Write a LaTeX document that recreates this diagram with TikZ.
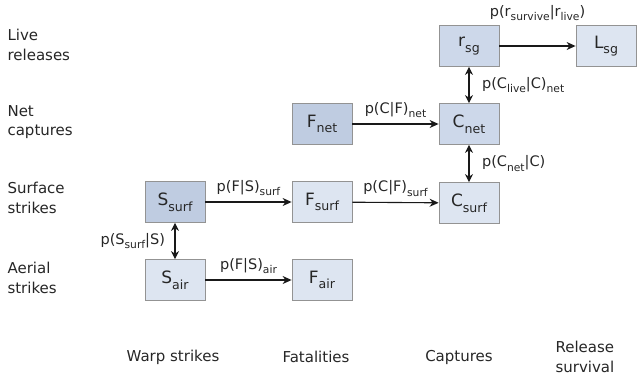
\documentclass[tikz,border=0pt]{standalone}
\usepackage{fontspec}
\setmainfont{DejaVu Sans}
\usetikzlibrary{arrows.meta,positioning}

\definecolor{cajaclaro}{HTML}{DDE5F1}
\definecolor{cajamedio}{HTML}{CDD8EA}
\definecolor{cajaoscuro}{HTML}{BFCCE1}
\newcommand{\bajo}[1]{\raisebox{-0.6ex}{\scalebox{0.74}{#1}}}

\tikzset{
	caja/.style={draw=gray!85, line width=0.8pt, minimum width=60pt, minimum height=41pt, inner sep=0pt, text=black!85, font=\fontsize{17}{20}\selectfont},
	claro/.style={caja, fill=cajaclaro},
	medio/.style={caja, fill=cajamedio},
	oscuro/.style={caja, fill=cajaoscuro},
	flecha/.style={-{Stealth[length=9pt,width=8pt]}, line width=1.1pt, black!90},
	doble/.style={{Stealth[length=8pt,width=8pt]}-{Stealth[length=8pt,width=8pt]}, line width=1.1pt, black!90},
	etiq/.style={text=black!85, inner sep=1.5pt, font=\fontsize{14.5}{16}\selectfont},
	fila/.style={text=black!85, align=left, anchor=west, font=\fontsize{15}{19.5}\selectfont}
}

\begin{document}
\begin{tikzpicture}[x=1pt, y=-1pt]
	\useasboundingbox (0,0) rectangle (637,378);

%filas
	\node[fila] (tlive) at (4,45) {Live\\releases};
	\node[fila] (tnet) at (4,122) {Net\\captures};
	\node[fila] (tsurf) at (4,198) {Surface\\strikes};
	\node[fila] (tair) at (4,278) {Aerial\\strikes};

%columnas
	\node[fila, anchor=center] (twarp) at (173,357) {Warp strikes};
	\node[fila, anchor=center] (tfat) at (316,357) {Fatalities};
	\node[fila, anchor=center] (tcap) at (459,357) {Captures};
	\node[fila] (trel) at (552,357) {Release\\survival};

%cajas
	\node[medio] (rsg) at (469,46) {r\bajo{sg}};
	\node[claro] (Lsg) at (606,46) {L\bajo{sg}};
	\node[oscuro] (Fnet) at (322,124) {F\bajo{net}};
	\node[medio] (Cnet) at (469,124) {C\bajo{net}};
	\node[oscuro] (Ssurf) at (175,202) {S\bajo{surf}};
	\node[claro] (Fsurf) at (322,202) {F\bajo{surf}};
	\node[claro] (Csurf) at (469,203) {C\bajo{surf}};
	\node[claro] (Sair) at (175,280) {S\bajo{air}};
	\node[claro] (Fair) at (322,280) {F\bajo{air}};

%flechas
	\draw[flecha] (rsg) -- (Lsg) node[etiq, midway, above=23pt] (lsurv) {p(r\bajo{survive}|r\bajo{live})};
	\draw[doble] (rsg) -- (Cnet) node[etiq, midway, right=11pt] (llive) {p(C\bajo{live}|C)\bajo{net}};
	\draw[flecha] (Fnet) -- (Cnet) node[etiq, midway, above=4pt] (lnet) {p(C|F)\bajo{net}};
	\draw[doble] (Cnet) -- (Csurf) node[etiq, midway, right=11pt] (lcnet) {p(C\bajo{net}|C)};
	\draw[flecha] (Ssurf) -- (Fsurf) node[etiq, midway, above=4pt] (lfs) {p(F|S)\bajo{surf}};
	\draw[flecha] (Fsurf) -- (Csurf) node[etiq, midway, above=4pt] (lcf) {p(C|F)\bajo{surf}};
	\draw[doble] (Ssurf) -- (Sair) node[etiq, midway, left=8pt] (lss) {p(S\bajo{surf}|S)};
	\draw[flecha] (Sair) -- (Fair) node[etiq, midway, above=4pt] (lfa) {p(F|S)\bajo{air}};
\end{tikzpicture}
\end{document}
